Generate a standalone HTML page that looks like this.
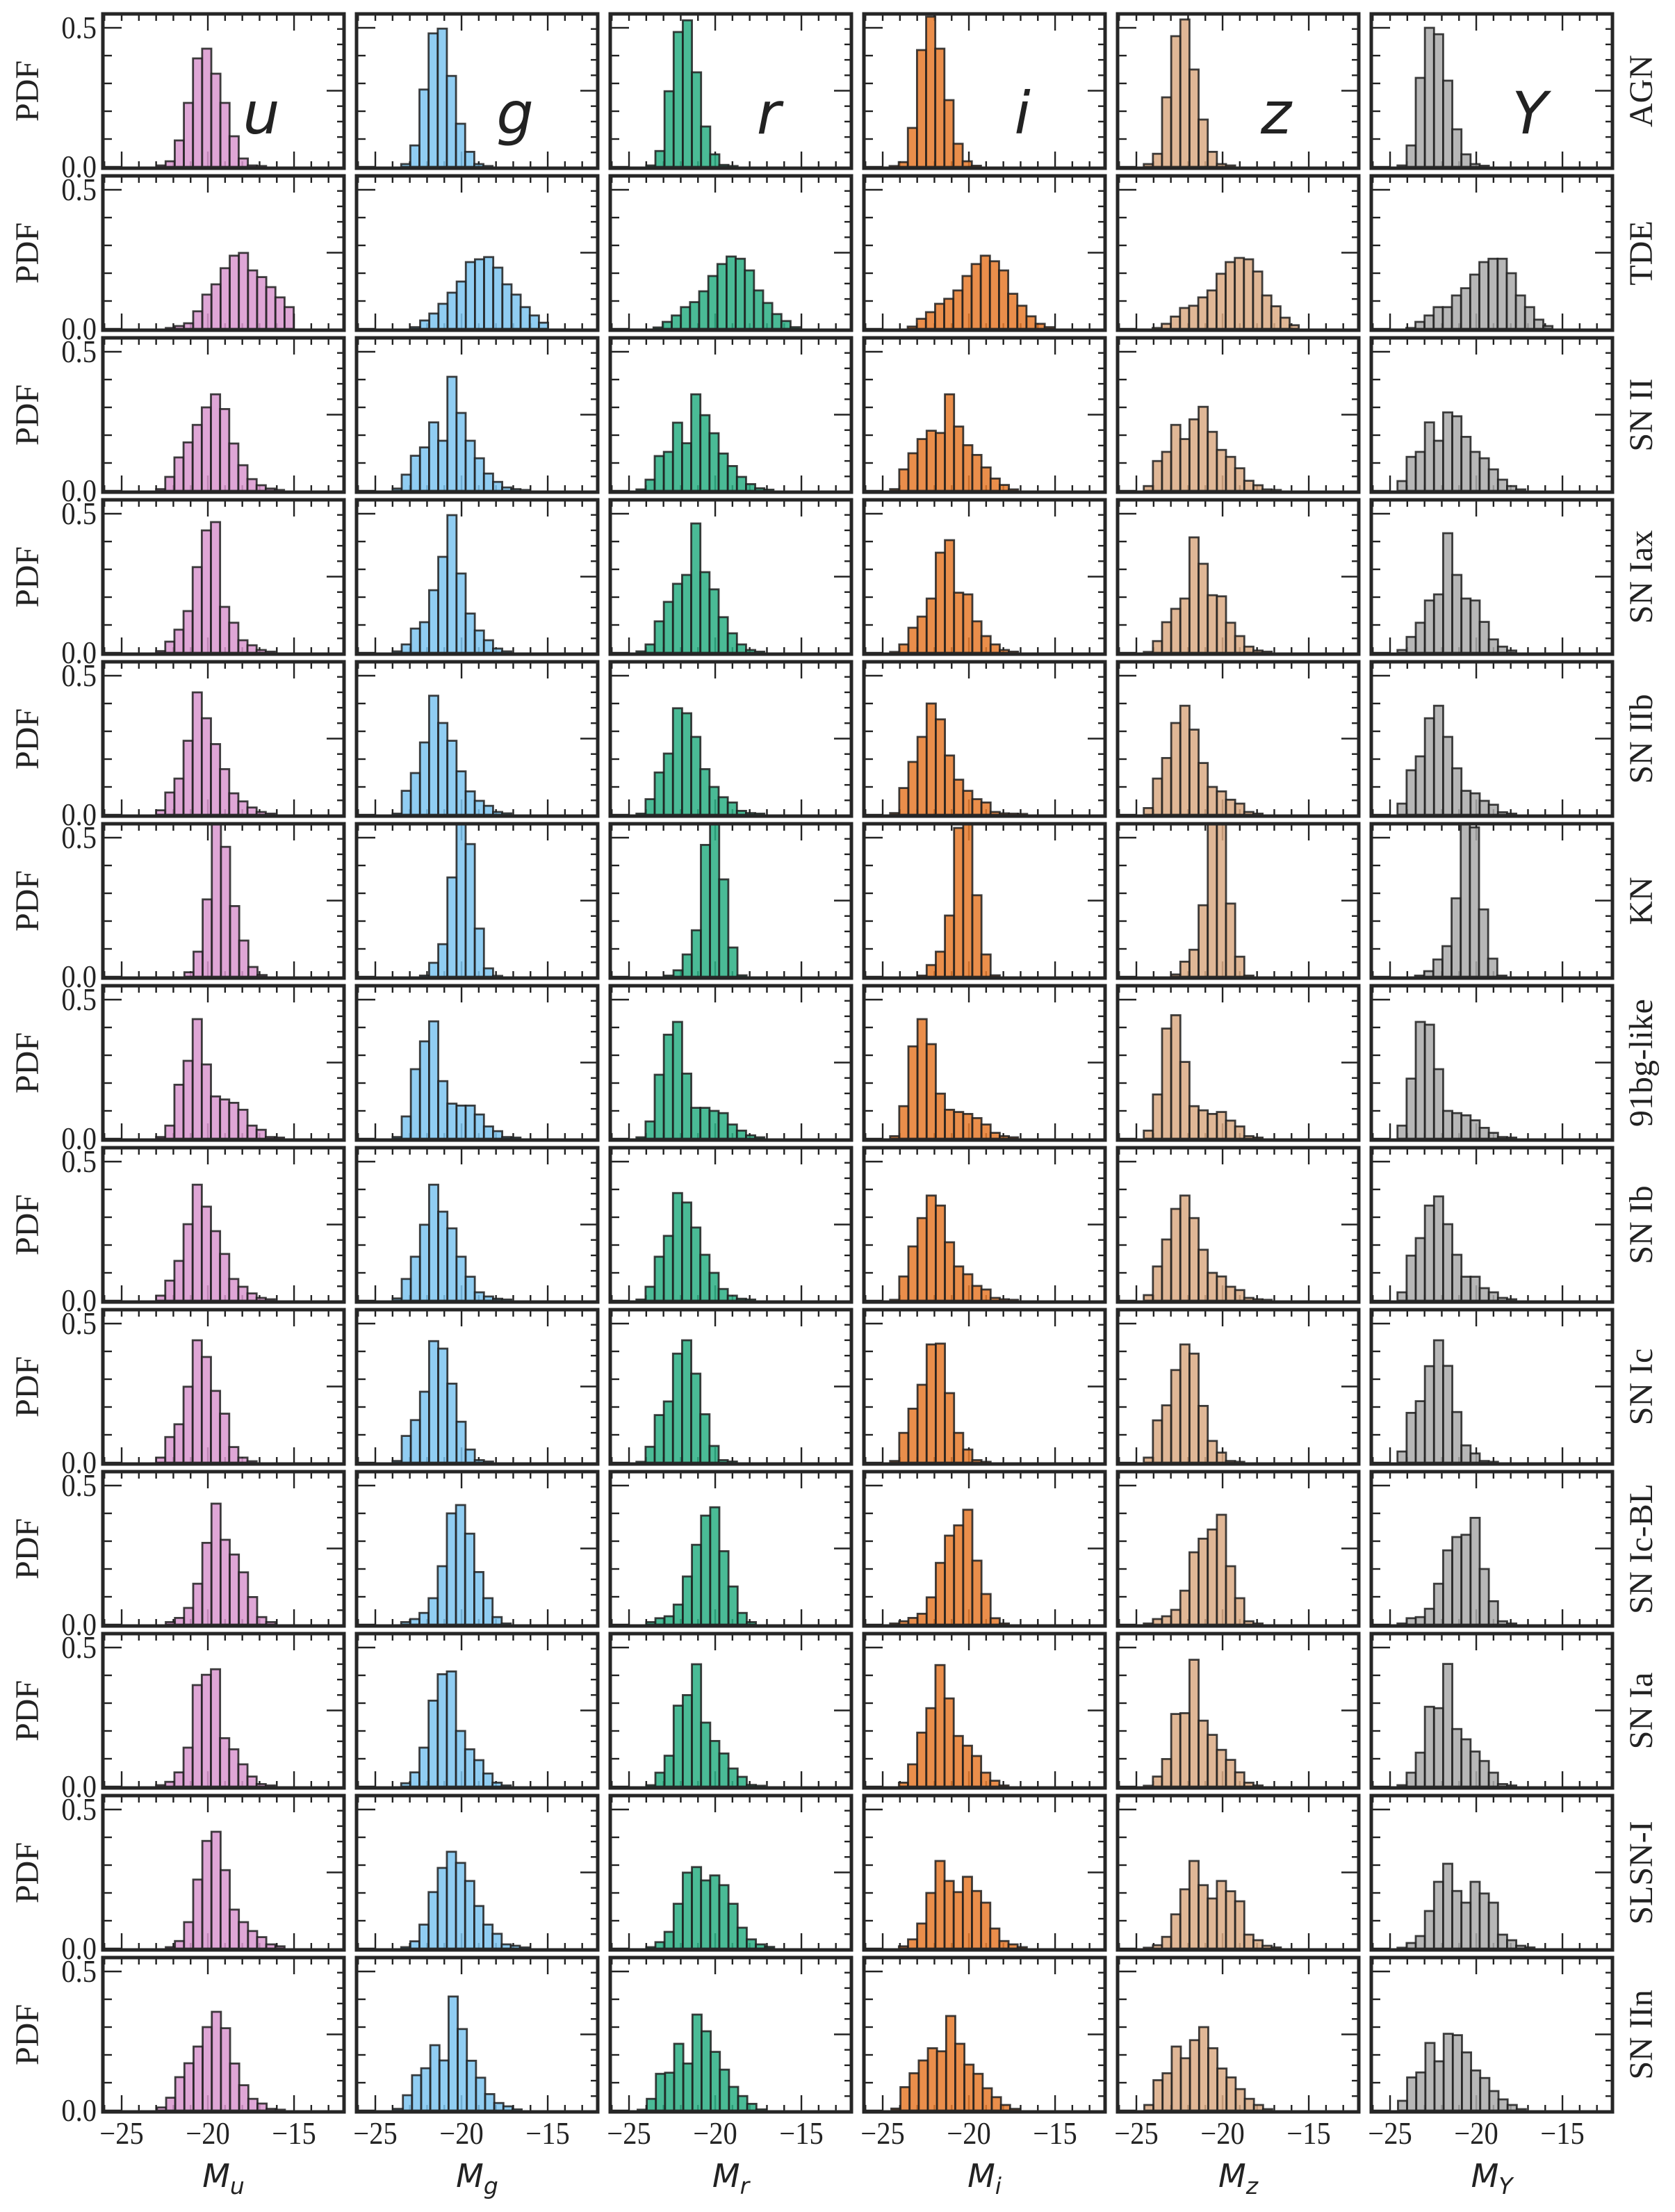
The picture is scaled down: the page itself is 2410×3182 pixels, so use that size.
<!DOCTYPE html>
<html><head><meta charset="utf-8"><title>Absolute magnitude PDFs</title>
<style>
html,body{margin:0;padding:0;background:#fff;}
svg{display:block;}
.tl{font-family:"Liberation Serif",serif;font-size:45px;fill:#222;}
.lab{font-family:"Liberation Serif",serif;font-size:48px;fill:#222;}
.band{font-family:"DejaVu Sans","Liberation Sans",sans-serif;font-style:italic;font-size:84px;fill:#222;}
.ax{font-family:"DejaVu Sans","Liberation Sans",sans-serif;font-style:italic;font-size:46px;fill:#222;}
</style></head>
<body>
<svg id="chart" xmlns="http://www.w3.org/2000/svg" width="2410" height="3182" viewBox="0 0 2410 3182">
<rect x="0" y="0" width="2410" height="3182" fill="#fff"/>
</svg>
<script>
// ---- data ----
const bands = ['u','g','r','i','z','Y'];
const bandColors = ['#d996cf','#7cc4f0','#2aaf84','#e67a2c','#dbaa84','#aaaaaa'];
const classes = ['AGN','TDE','SN II','SN Iax','SN IIb','KN','91bg-like','SN Ib','SN Ic','SN Ic-BL','SN Ia','SLSN-I','SN IIn'];
const binWidth = 0.53;
const xTicks = [-25,-20,-15];
const xTickLabels = ['\u221225','\u221220','\u221215'];
const yTicks = [0,0.5];
const yTickLabels = ['0.0','0.5'];

const agnStarts = [-22.98,-23.5,-24.0,-24.6,-24.57,-24.57];
const agnHeights = [
 [0.005,0.02,0.095,0.23,0.39,0.425,0.335,0.23,0.11,0.03,0.005,0.003],
 [0.01,0.077,0.278,0.48,0.497,0.327,0.155,0.054,0.01,0.003],
 [0.005,0.057,0.272,0.485,0.527,0.34,0.145,0.045,0.007,0.003],
 [0.003,0.017,0.14,0.42,0.54,0.425,0.24,0.083,0.02,0.004],
 [0.01,0.047,0.25,0.47,0.53,0.35,0.17,0.054,0.01,0.005],
 [0.005,0.077,0.32,0.5,0.477,0.31,0.135,0.045,0.01,0.004]];
const tdeStarts = [-22.44,-22.93,-23.58,-23.55,-24.06,-24.06];
const tdeHeights = [
 [0.003,0.01,0.02,0.063,0.123,0.16,0.218,0.263,0.273,0.21,0.186,0.15,0.113,0.078],
 [0.006,0.03,0.055,0.09,0.13,0.17,0.24,0.25,0.258,0.22,0.16,0.123,0.078,0.048,0.022],
 [0.005,0.025,0.048,0.078,0.096,0.135,0.19,0.233,0.26,0.252,0.21,0.138,0.093,0.053,0.028,0.006],
 [0.008,0.036,0.06,0.09,0.108,0.138,0.19,0.233,0.263,0.243,0.21,0.126,0.083,0.045,0.018,0.006],
 [0.003,0.018,0.044,0.075,0.083,0.113,0.138,0.198,0.24,0.255,0.25,0.206,0.12,0.081,0.04,0.013],
 [0.003,0.025,0.048,0.078,0.078,0.12,0.146,0.195,0.24,0.252,0.252,0.2,0.12,0.078,0.033,0.01]];
const sn2Starts = [-23.0,-24.0,-24.57,-24.57,-24.57,-24.57];
const sn2Heights = [
 [0.006,0.05,0.12,0.174,0.237,0.3,0.347,0.294,0.17,0.092,0.042,0.02,0.008,0.003],
 [0.008,0.058,0.126,0.156,0.246,0.18,0.41,0.28,0.18,0.117,0.062,0.032,0.012,0.006,0.003],
 [0.005,0.04,0.125,0.14,0.245,0.171,0.347,0.272,0.207,0.134,0.089,0.05,0.024,0.009,0.004],
 [0.006,0.077,0.135,0.186,0.216,0.208,0.347,0.231,0.164,0.129,0.084,0.044,0.021,0.005],
 [0.017,0.107,0.14,0.237,0.186,0.257,0.302,0.212,0.147,0.122,0.081,0.036,0.02,0.005,0.003],
 [0.035,0.122,0.14,0.246,0.18,0.282,0.268,0.194,0.14,0.117,0.077,0.04,0.017,0.005]];
const iaxStarts = [-23.0,-24.0,-24.57,-24.57,-24.57,-24.57];
const iaxHeights = [
 [0.006,0.04,0.083,0.15,0.308,0.44,0.47,0.165,0.108,0.045,0.027,0.01,0.004],
 [0.005,0.03,0.087,0.11,0.225,0.345,0.495,0.285,0.141,0.08,0.045,0.015,0.005],
 [0.005,0.03,0.113,0.183,0.248,0.28,0.465,0.29,0.228,0.128,0.07,0.03,0.01,0.004],
 [0.003,0.03,0.09,0.13,0.195,0.36,0.405,0.216,0.21,0.113,0.06,0.03,0.01,0.004],
 [0.003,0.042,0.11,0.158,0.195,0.415,0.32,0.207,0.203,0.108,0.06,0.022,0.008,0.004],
 [0.01,0.057,0.108,0.188,0.21,0.43,0.28,0.195,0.188,0.111,0.048,0.022,0.008]];
const iibStarts = [-23.0,-24.0,-24.57,-24.57,-24.57,-24.57];
const iibHeights = [
 [0.016,0.08,0.13,0.266,0.44,0.347,0.254,0.164,0.077,0.048,0.026,0.01,0.004],
 [0.004,0.086,0.15,0.26,0.428,0.33,0.266,0.156,0.084,0.05,0.032,0.01,0.005],
 [0.004,0.056,0.152,0.22,0.383,0.365,0.28,0.164,0.1,0.063,0.044,0.014,0.006,0.004],
 [0.006,0.096,0.19,0.28,0.4,0.343,0.213,0.126,0.086,0.056,0.044,0.01,0.005,0.004,0.003],
 [0.024,0.13,0.204,0.33,0.392,0.306,0.186,0.1,0.084,0.054,0.04,0.01,0.004],
 [0.04,0.16,0.21,0.347,0.392,0.28,0.167,0.086,0.077,0.05,0.036,0.009,0.004]];
const knStarts = [-21.36,-22.41,-22.95,-22.98,-22.98,-23.55];
const knHeights = [
 [0.016,0.09,0.278,0.6,0.467,0.254,0.13,0.035,0.006],
 [0.004,0.05,0.117,0.357,0.6,0.477,0.173,0.03,0.003],
 [0.004,0.023,0.08,0.167,0.474,0.6,0.35,0.105,0.005],
 [0.004,0.042,0.09,0.22,0.535,0.6,0.293,0.08,0.005],
 [0.008,0.054,0.097,0.257,0.6,0.6,0.263,0.072,0.004],
 [0.004,0.02,0.062,0.11,0.282,0.6,0.537,0.242,0.065,0.004]];
const bgStarts = [-23.0,-24.0,-24.57,-24.57,-24.57,-24.57];
const bgHeights = [
 [0.006,0.047,0.194,0.28,0.43,0.267,0.152,0.141,0.129,0.104,0.047,0.032,0.006,0.004],
 [0.006,0.08,0.25,0.35,0.422,0.207,0.126,0.119,0.119,0.087,0.044,0.027,0.006,0.004],
 [0.005,0.062,0.23,0.374,0.42,0.234,0.111,0.111,0.1,0.092,0.051,0.029,0.012,0.005],
 [0.009,0.117,0.332,0.43,0.34,0.162,0.104,0.096,0.089,0.074,0.051,0.021,0.009,0.005],
 [0.029,0.159,0.396,0.444,0.276,0.117,0.102,0.089,0.096,0.065,0.044,0.009,0.004],
 [0.047,0.216,0.42,0.41,0.25,0.1,0.092,0.084,0.066,0.039,0.021,0.006,0.004]];
const ibStarts = [-23.0,-24.0,-24.57,-24.57,-24.57,-24.57];
const ibHeights = [
 [0.018,0.072,0.143,0.275,0.417,0.338,0.25,0.168,0.078,0.05,0.026,0.01,0.005],
 [0.008,0.078,0.158,0.273,0.417,0.32,0.26,0.158,0.086,0.03,0.015,0.007,0.004],
 [0.004,0.05,0.158,0.233,0.387,0.353,0.263,0.165,0.1,0.042,0.018,0.007,0.004],
 [0.003,0.087,0.195,0.297,0.378,0.342,0.21,0.123,0.095,0.053,0.04,0.01,0.005,0.003],
 [0.02,0.123,0.22,0.33,0.378,0.297,0.183,0.1,0.087,0.05,0.038,0.01,0.005,0.003],
 [0.03,0.162,0.225,0.342,0.375,0.275,0.165,0.086,0.086,0.045,0.03,0.01,0.005]];
const icStarts = [-23.0,-24.0,-24.57,-24.57,-24.57,-24.57];
const icHeights = [
 [0.018,0.092,0.138,0.273,0.44,0.38,0.258,0.176,0.056,0.018,0.005],
 [0.006,0.096,0.153,0.255,0.437,0.41,0.284,0.147,0.047,0.009,0.004],
 [0.003,0.057,0.171,0.22,0.392,0.44,0.32,0.174,0.06,0.009,0.004],
 [0.006,0.107,0.194,0.28,0.425,0.428,0.25,0.107,0.047,0.009,0.003],
 [0.018,0.152,0.206,0.333,0.425,0.392,0.204,0.078,0.036,0.006,0.003],
 [0.04,0.179,0.221,0.347,0.44,0.348,0.182,0.062,0.033,0.006,0.003]];
const icblStarts = [-22.44,-23.5,-24.0,-24.57,-24.57,-24.57];
const icblHeights = [
 [0.009,0.024,0.06,0.147,0.294,0.435,0.305,0.252,0.188,0.099,0.027,0.009],
 [0.009,0.02,0.042,0.095,0.21,0.4,0.43,0.327,0.189,0.095,0.027,0.004],
 [0.009,0.023,0.03,0.072,0.173,0.287,0.392,0.422,0.264,0.137,0.042,0.009],
 [0.004,0.012,0.024,0.039,0.098,0.222,0.32,0.357,0.413,0.23,0.11,0.023,0.004],
 [0.004,0.02,0.03,0.053,0.122,0.26,0.309,0.342,0.395,0.21,0.095,0.012,0.004],
 [0.004,0.023,0.027,0.057,0.147,0.267,0.315,0.323,0.384,0.2,0.084,0.012,0.004]];
const iaStarts = [-23.0,-23.5,-24.0,-24.06,-24.57,-24.57];
const iaHeights = [
 [0.005,0.017,0.051,0.14,0.365,0.402,0.422,0.174,0.134,0.08,0.036,0.009,0.004],
 [0.012,0.051,0.14,0.309,0.404,0.414,0.2,0.134,0.095,0.047,0.014,0.004],
 [0.005,0.05,0.111,0.291,0.329,0.44,0.23,0.164,0.119,0.065,0.035,0.006,0.003],
 [0.014,0.08,0.194,0.282,0.437,0.317,0.182,0.147,0.11,0.05,0.021,0.004],
 [0.003,0.036,0.099,0.261,0.264,0.456,0.237,0.186,0.132,0.096,0.051,0.014,0.004],
 [0.005,0.05,0.122,0.287,0.282,0.441,0.207,0.17,0.126,0.092,0.05,0.009,0.004]];
const slsnStarts = [-22.44,-23.5,-24.0,-24.06,-24.57,-24.57];
const slsnHeights = [
 [0.005,0.027,0.095,0.248,0.387,0.42,0.282,0.14,0.095,0.063,0.041,0.015,0.008],
 [0.005,0.026,0.086,0.203,0.29,0.348,0.308,0.243,0.153,0.086,0.053,0.015,0.01,0.004],
 [0.005,0.023,0.06,0.161,0.273,0.293,0.245,0.263,0.228,0.161,0.075,0.033,0.015,0.006],
 [0.008,0.033,0.09,0.2,0.315,0.243,0.203,0.258,0.207,0.165,0.072,0.027,0.015,0.005],
 [0.003,0.012,0.042,0.123,0.213,0.315,0.228,0.18,0.243,0.206,0.17,0.05,0.03,0.01,0.004],
 [0.003,0.02,0.045,0.135,0.24,0.305,0.207,0.165,0.24,0.198,0.165,0.05,0.03,0.01,0.004]];
const iinStarts = [-22.95,-23.93,-24.5,-24.5,-24.54,-24.54];
const iinHeights = [
 [0.011,0.046,0.12,0.17,0.23,0.3,0.355,0.296,0.169,0.091,0.042,0.025,0.006,0.003],
 [0.006,0.055,0.127,0.152,0.235,0.18,0.41,0.293,0.179,0.118,0.059,0.027,0.015,0.004],
 [0.003,0.042,0.132,0.136,0.24,0.169,0.345,0.285,0.211,0.147,0.085,0.052,0.024,0.004],
 [0.007,0.084,0.134,0.18,0.224,0.213,0.34,0.24,0.165,0.132,0.08,0.048,0.02,0.006],
 [0.02,0.109,0.134,0.23,0.188,0.253,0.3,0.224,0.151,0.119,0.077,0.042,0.02,0.005],
 [0.035,0.119,0.137,0.243,0.177,0.276,0.271,0.209,0.144,0.117,0.07,0.04,0.02,0.005]];

const allStarts = [agnStarts,tdeStarts,sn2Starts,iaxStarts,iibStarts,knStarts,bgStarts,ibStarts,icStarts,icblStarts,iaStarts,slsnStarts,iinStarts];
const allHeights = [agnHeights,tdeHeights,sn2Heights,iaxHeights,iibHeights,knHeights,bgHeights,ibHeights,icHeights,icblHeights,iaHeights,slsnHeights,iinHeights];

// ---- layout ----
const NS = 'http://www.w3.org/2000/svg';
const svg = document.getElementById('chart');
const PL = 148, PW = 347, PDX = 365, PT = 20, PH = 222, PDY = 233;
const XMIN = -26.09, XMAX = -12.1, YMIN = -0.005, YMAX = 0.55;
function mk(tag, attrs, parent){ const e=document.createElementNS(NS,tag); for(const k in attrs) e.setAttribute(k,attrs[k]); (parent||svg).appendChild(e); return e; }
function xs(c,m){ return PL + c*PDX + (m - XMIN)/(XMAX - XMIN)*PW; }
function ys(r,v){ return PT + r*PDY + (YMAX - v)/(YMAX - YMIN)*PH; }

const defs = mk('defs',{});
for(let r=0;r<classes.length;r++){
  const rowG = mk('g',{});
  
  
  const top = PT + r*PDY, bot = top + PH;
  for(let c=0;c<bands.length;c++){
    const left = PL + c*PDX, right = left + PW;
    const g = mk('g',{},rowG);
    
    
    const cp = mk('clipPath',{id:'cp'+r+'_'+c},defs);
    mk('rect',{x:left,y:top,width:PW,height:PH},cp);
    const tk = mk('g',{stroke:'#222','stroke-width':2.4},g);
    
    
    for(let m=-26;m<=-12;m++){
      const x = xs(c,m);
      if(x<left+2||x>right-2) continue;
      const major = xTicks.indexOf(m)>=0;
      const L = major?24:10;
      mk('line',{x1:x,y1:bot,x2:x,y2:bot-L},tk);
      const Lt = (major && m!==-25)?24:10;
      mk('line',{x1:x,y1:top,x2:x,y2:top+Lt},tk);
    }
    for(let k=0;k<=5;k++){
      const v = k*0.1; const y = ys(r,v);
      const L = (k===0||k===5)?27:13;
      mk('line',{x1:left,y1:y,x2:left+L,y2:y},tk);
    }
    for(let k=0;k<9;k++){
      const y = top + 21.7 + k*22.2;
      const L = k===4?25:10;
      mk('line',{x1:right,y1:y,x2:right-L,y2:y},tk);
    }
    const bg = mk('g',{'clip-path':'url(#cp'+r+'_'+c+')'},g);
    
    
    const hs = allHeights[r][c], st = allStarts[r][c];
    for(let k=0;k<hs.length;k++){
      const x0 = xs(c, st + k*binWidth), x1 = xs(c, st + (k+1)*binWidth);
      const y0 = ys(r, hs[k]), yb = ys(r, 0);
      const b = mk('rect',{x:x0,y:y0,width:x1-x0,height:Math.max(0,yb-y0),fill:bandColors[c],'fill-opacity':0.85,stroke:'#1e1e1e','stroke-opacity':0.85,'stroke-width':2.8},bg);
      
      
    }
    const f = mk('rect',{x:left,y:top,width:PW,height:PH,fill:'none',stroke:'#262626','stroke-width':5},g);
    
    
    if(r===0){
      const t = mk('text',{x:left+228,y:top+172,'text-anchor':'middle',class:'band'},g);
      t.textContent = bands[c];
      
      
    }
  }
  for(let k=0;k<yTicks.length;k++){
    const t = mk('text',{x:0,y:0,'text-anchor':'end',class:'tl',transform:'translate(139,'+(ys(r,yTicks[k])+15)+') scale(0.9,1)'},rowG);
    t.textContent = yTickLabels[k];
    
    
  }
  const cy = top + PH/2;
  const p = mk('text',{x:0,y:0,'text-anchor':'middle',class:'lab',transform:'translate(55,'+cy+') rotate(-90)'},rowG);
  p.textContent = 'PDF';
  
  
  const cl = mk('text',{x:0,y:0,'text-anchor':'middle',class:'lab',transform:'translate(2377,'+cy+') rotate(-90)'},rowG);
  cl.textContent = classes[r];
  
  
}
const lastBot = PT + (classes.length-1)*PDY + PH;
for(let c=0;c<bands.length;c++){
  for(let k=0;k<xTicks.length;k++){
    const t = mk('text',{x:0,y:0,'text-anchor':'middle',class:'tl',transform:'translate('+xs(c,xTicks[k])+','+(lastBot+46)+') scale(0.9,1)'});
    t.textContent = xTickLabels[k];
    
    
  }
  const cx = PL + c*PDX + PW/2;
  const a = mk('text',{x:cx,y:lastBot+108,'text-anchor':'middle',class:'ax'});
  
  
  const m = document.createElementNS(NS,'tspan'); m.textContent='M'; a.appendChild(m);
  const s = document.createElementNS(NS,'tspan'); s.setAttribute('dy','10'); s.setAttribute('font-size','33'); s.textContent=bands[c]; a.appendChild(s);
}
</script>
</body></html>
